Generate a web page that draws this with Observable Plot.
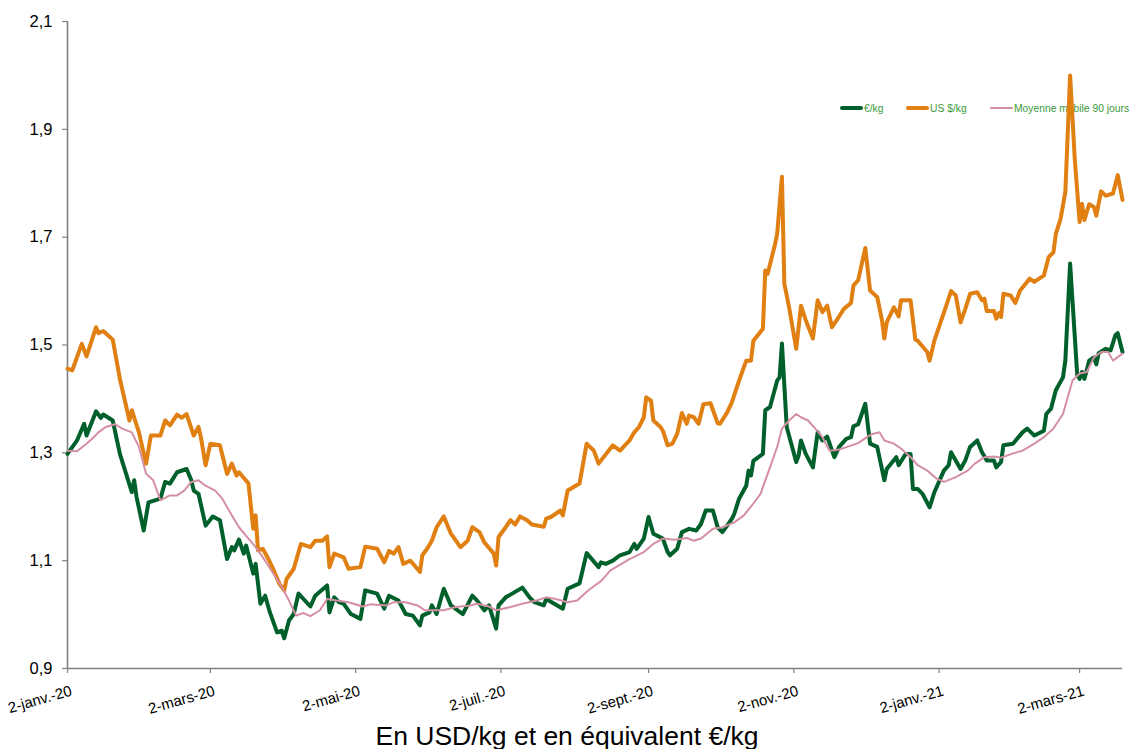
<!DOCTYPE html>
<html><head><meta charset="utf-8">
<script src="https://cdn.jsdelivr.net/npm/d3@7"></script>
<script src="https://cdn.jsdelivr.net/npm/@observablehq/plot@0.6"></script>
<style>
html,body{margin:0;padding:0;background:#fff;overflow:hidden;}
#wrap{position:relative;width:1130px;height:749px;font-family:"Liberation Sans",Arial,sans-serif;}
#legend{position:absolute;left:0;top:0;width:1130px;height:0;font-size:10.3px;color:#3a9a3a;}
.item{position:absolute;display:flex;align-items:center;white-space:nowrap;height:14px;}
.sw{display:inline-block;width:23px;margin-right:1px;border-radius:2px;}
#chart{position:relative;}
#chart svg{display:block;}
#caption{text-align:center;font-size:26.5px;color:#000;padding-top:9px;line-height:30px;padding-left:4px;}
</style>
</head><body>
<div id="wrap">
  <div id="legend"></div>
  <div id="chart"></div>
  <div id="caption"></div>
</div>
<script>
// ---- Data ----
const seriesNames = ["€/kg", "US $/kg", "Moyenne mobile 90 jours"];
const captionText = "En USD/kg et en équivalent €/kg";

const eurDates = ["2020-01-02","2020-01-06","2020-01-09","2020-01-10","2020-01-14","2020-01-16","2020-01-17","2020-01-21","2020-01-24","2020-01-29","2020-01-30","2020-01-31","2020-02-03","2020-02-05","2020-02-10","2020-02-12","2020-02-14","2020-02-17","2020-02-21","2020-02-23","2020-02-24","2020-02-26","2020-02-29","2020-03-03","2020-03-06","2020-03-09","2020-03-11","2020-03-12","2020-03-14","2020-03-16","2020-03-17","2020-03-20","2020-03-21","2020-03-23","2020-03-25","2020-03-27","2020-03-30","2020-04-01","2020-04-02","2020-04-04","2020-04-06","2020-04-08","2020-04-13","2020-04-15","2020-04-20","2020-04-21","2020-04-23","2020-04-25","2020-04-27","2020-04-30","2020-05-04","2020-05-06","2020-05-11","2020-05-14","2020-05-16","2020-05-20","2020-05-23","2020-05-26","2020-05-29","2020-05-30","2020-06-02","2020-06-03","2020-06-05","2020-06-08","2020-06-11","2020-06-16","2020-06-20","2020-06-22","2020-06-25","2020-06-27","2020-06-30","2020-07-01","2020-07-04","2020-07-06","2020-07-11","2020-07-14","2020-07-16","2020-07-20","2020-07-21","2020-07-28","2020-07-30","2020-08-04","2020-08-07","2020-08-12","2020-08-13","2020-08-15","2020-08-18","2020-08-21","2020-08-25","2020-08-27","2020-08-28","2020-08-31","2020-09-02","2020-09-04","2020-09-08","2020-09-10","2020-09-11","2020-09-14","2020-09-16","2020-09-19","2020-09-22","2020-09-24","2020-09-26","2020-09-29","2020-10-01","2020-10-03","2020-10-05","2020-10-07","2020-10-08","2020-10-10","2020-10-13","2020-10-14","2020-10-15","2020-10-16","2020-10-20","2020-10-21","2020-10-23","2020-10-26","2020-10-27","2020-10-28","2020-10-30","2020-11-03","2020-11-04","2020-11-05","2020-11-07","2020-11-10","2020-11-12","2020-11-14","2020-11-16","2020-11-19","2020-11-21","2020-11-24","2020-11-26","2020-11-27","2020-11-29","2020-12-02","2020-12-04","2020-12-07","2020-12-10","2020-12-11","2020-12-15","2020-12-16","2020-12-19","2020-12-21","2020-12-22","2020-12-24","2020-12-26","2020-12-29","2020-12-31","2021-01-04","2021-01-06","2021-01-07","2021-01-11","2021-01-13","2021-01-15","2021-01-18","2021-01-20","2021-01-22","2021-01-25","2021-01-26","2021-01-28","2021-01-29","2021-02-02","2021-02-06","2021-02-08","2021-02-11","2021-02-15","2021-02-16","2021-02-18","2021-02-20","2021-02-23","2021-02-24","2021-02-26","2021-03-01","2021-03-02","2021-03-03","2021-03-04","2021-03-06","2021-03-08","2021-03-09","2021-03-10","2021-03-13","2021-03-15","2021-03-17","2021-03-18","2021-03-20"];
const eurValues = [1.298,1.323,1.354,1.332,1.377,1.365,1.371,1.360,1.298,1.227,1.249,1.218,1.156,1.208,1.215,1.246,1.243,1.264,1.270,1.249,1.230,1.224,1.165,1.182,1.175,1.103,1.125,1.119,1.139,1.113,1.128,1.076,1.094,1.020,1.035,1.004,0.967,0.970,0.956,0.989,1.001,1.039,1.015,1.035,1.054,1.004,1.032,1.023,1.020,1.001,0.992,1.045,1.039,1.011,1.035,1.026,1.001,0.998,0.980,0.998,1.004,1.017,1.001,1.048,1.017,1.001,1.035,1.026,1.008,1.017,0.974,1.017,1.032,1.037,1.050,1.032,1.023,1.017,1.029,1.011,1.048,1.058,1.114,1.088,1.097,1.094,1.100,1.110,1.116,1.131,1.122,1.141,1.181,1.150,1.141,1.116,1.110,1.122,1.153,1.159,1.156,1.168,1.193,1.193,1.162,1.153,1.165,1.178,1.187,1.215,1.239,1.267,1.258,1.285,1.298,1.379,1.385,1.434,1.440,1.503,1.348,1.283,1.295,1.323,1.298,1.273,1.338,1.323,1.330,1.292,1.311,1.326,1.329,1.349,1.353,1.391,1.317,1.311,1.249,1.270,1.292,1.277,1.298,1.298,1.233,1.233,1.224,1.199,1.227,1.267,1.277,1.301,1.270,1.286,1.311,1.323,1.301,1.286,1.286,1.273,1.283,1.314,1.317,1.338,1.345,1.332,1.341,1.372,1.382,1.416,1.440,1.471,1.651,1.444,1.437,1.450,1.437,1.471,1.477,1.464,1.485,1.493,1.490,1.518,1.522,1.487];

const usdDates = ["2020-01-02","2020-01-04","2020-01-08","2020-01-10","2020-01-14","2020-01-15","2020-01-17","2020-01-21","2020-01-24","2020-01-28","2020-01-29","2020-02-01","2020-02-04","2020-02-06","2020-02-10","2020-02-12","2020-02-14","2020-02-17","2020-02-19","2020-02-21","2020-02-24","2020-02-26","2020-02-27","2020-02-29","2020-03-02","2020-03-06","2020-03-09","2020-03-11","2020-03-13","2020-03-14","2020-03-18","2020-03-20","2020-03-21","2020-03-22","2020-03-24","2020-03-26","2020-03-28","2020-03-31","2020-04-02","2020-04-03","2020-04-06","2020-04-09","2020-04-13","2020-04-15","2020-04-18","2020-04-20","2020-04-21","2020-04-23","2020-04-27","2020-04-29","2020-05-04","2020-05-06","2020-05-11","2020-05-14","2020-05-16","2020-05-18","2020-05-20","2020-05-22","2020-05-25","2020-05-29","2020-05-30","2020-06-01","2020-06-03","2020-06-05","2020-06-08","2020-06-11","2020-06-15","2020-06-18","2020-06-20","2020-06-23","2020-06-25","2020-06-29","2020-06-30","2020-07-01","2020-07-04","2020-07-06","2020-07-08","2020-07-10","2020-07-13","2020-07-15","2020-07-20","2020-07-21","2020-07-23","2020-07-25","2020-07-27","2020-07-28","2020-07-30","2020-08-04","2020-08-07","2020-08-10","2020-08-12","2020-08-18","2020-08-21","2020-08-25","2020-08-27","2020-08-29","2020-08-31","2020-09-01","2020-09-03","2020-09-04","2020-09-07","2020-09-08","2020-09-10","2020-09-12","2020-09-14","2020-09-16","2020-09-18","2020-09-19","2020-09-21","2020-09-23","2020-09-25","2020-09-28","2020-10-01","2020-10-02","2020-10-05","2020-10-07","2020-10-10","2020-10-13","2020-10-15","2020-10-16","2020-10-20","2020-10-21","2020-10-22","2020-10-25","2020-10-26","2020-10-28","2020-10-29","2020-10-31","2020-11-03","2020-11-05","2020-11-07","2020-11-10","2020-11-12","2020-11-14","2020-11-16","2020-11-18","2020-11-20","2020-11-23","2020-11-26","2020-11-27","2020-11-29","2020-12-02","2020-12-04","2020-12-07","2020-12-09","2020-12-10","2020-12-11","2020-12-14","2020-12-16","2020-12-17","2020-12-21","2020-12-23","2020-12-24","2020-12-28","2020-12-29","2020-12-31","2021-01-05","2021-01-07","2021-01-09","2021-01-11","2021-01-13","2021-01-15","2021-01-18","2021-01-20","2021-01-21","2021-01-22","2021-01-25","2021-01-26","2021-01-27","2021-01-28","2021-01-29","2021-02-01","2021-02-03","2021-02-05","2021-02-09","2021-02-11","2021-02-15","2021-02-17","2021-02-19","2021-02-20","2021-02-22","2021-02-24","2021-02-26","2021-02-28","2021-03-02","2021-03-03","2021-03-04","2021-03-06","2021-03-08","2021-03-09","2021-03-11","2021-03-13","2021-03-16","2021-03-18","2021-03-20"];
const usdValues = [1.456,1.453,1.502,1.479,1.533,1.522,1.526,1.510,1.437,1.360,1.379,1.338,1.280,1.332,1.332,1.360,1.351,1.371,1.365,1.372,1.332,1.348,1.329,1.277,1.317,1.314,1.261,1.280,1.258,1.264,1.243,1.159,1.184,1.119,1.122,1.106,1.088,1.057,1.045,1.066,1.085,1.131,1.125,1.137,1.137,1.145,1.088,1.113,1.106,1.085,1.088,1.126,1.122,1.097,1.118,1.113,1.125,1.094,1.100,1.079,1.110,1.122,1.137,1.162,1.182,1.150,1.125,1.137,1.162,1.153,1.134,1.113,1.091,1.144,1.162,1.175,1.167,1.182,1.175,1.167,1.163,1.178,1.181,1.187,1.193,1.184,1.230,1.243,1.317,1.304,1.280,1.314,1.304,1.323,1.338,1.348,1.366,1.403,1.397,1.360,1.348,1.341,1.314,1.317,1.335,1.374,1.354,1.369,1.366,1.354,1.390,1.392,1.355,1.354,1.375,1.394,1.434,1.471,1.471,1.508,1.530,1.638,1.632,1.685,1.706,1.812,1.614,1.570,1.493,1.573,1.546,1.512,1.583,1.561,1.573,1.533,1.546,1.567,1.578,1.610,1.620,1.680,1.601,1.589,1.546,1.512,1.542,1.570,1.553,1.583,1.583,1.510,1.508,1.487,1.471,1.508,1.573,1.600,1.592,1.542,1.567,1.595,1.598,1.583,1.586,1.563,1.563,1.549,1.559,1.552,1.595,1.592,1.578,1.601,1.623,1.617,1.629,1.663,1.672,1.706,1.734,1.784,2.000,1.842,1.728,1.762,1.732,1.761,1.756,1.740,1.785,1.777,1.781,1.815,1.769];

const maDates = ["2020-01-02","2020-01-06","2020-01-10","2020-01-13","2020-01-15","2020-01-18","2020-01-22","2020-01-25","2020-01-29","2020-02-01","2020-02-04","2020-02-07","2020-02-10","2020-02-14","2020-02-17","2020-02-20","2020-02-23","2020-02-26","2020-02-29","2020-03-04","2020-03-07","2020-03-11","2020-03-14","2020-03-18","2020-03-21","2020-03-25","2020-03-28","2020-04-01","2020-04-04","2020-04-07","2020-04-10","2020-04-13","2020-04-17","2020-04-20","2020-04-24","2020-04-29","2020-05-05","2020-05-08","2020-05-15","2020-05-18","2020-05-23","2020-05-28","2020-05-31","2020-06-08","2020-06-13","2020-06-19","2020-06-22","2020-06-27","2020-06-30","2020-07-06","2020-07-11","2020-07-17","2020-07-21","2020-07-25","2020-07-30","2020-08-03","2020-08-08","2020-08-13","2020-08-17","2020-08-25","2020-08-31","2020-09-04","2020-09-08","2020-09-13","2020-09-18","2020-09-21","2020-09-24","2020-09-29","2020-10-03","2020-10-08","2020-10-12","2020-10-16","2020-10-19","2020-10-22","2020-10-26","2020-10-28","2020-10-31","2020-11-03","2020-11-05","2020-11-08","2020-11-11","2020-11-14","2020-11-17","2020-11-21","2020-11-25","2020-11-29","2020-12-03","2020-12-05","2020-12-08","2020-12-10","2020-12-14","2020-12-17","2020-12-21","2020-12-24","2020-12-28","2021-01-01","2021-01-04","2021-01-09","2021-01-14","2021-01-17","2021-01-21","2021-01-25","2021-01-28","2021-02-02","2021-02-06","2021-02-11","2021-02-15","2021-02-19","2021-02-23","2021-02-25","2021-02-27","2021-03-02","2021-03-05","2021-03-08","2021-03-11","2021-03-14","2021-03-16","2021-03-20"];
const maValues = [1.304,1.303,1.317,1.329,1.338,1.348,1.353,1.345,1.338,1.311,1.261,1.249,1.212,1.221,1.221,1.230,1.246,1.249,1.239,1.230,1.215,1.184,1.162,1.141,1.125,1.100,1.079,1.051,1.026,0.998,1.003,0.997,1.008,1.029,1.026,1.023,1.015,1.019,1.017,1.023,1.023,1.017,1.008,1.008,1.014,1.017,1.020,1.015,1.008,1.014,1.020,1.026,1.032,1.029,1.023,1.026,1.046,1.062,1.082,1.103,1.116,1.131,1.141,1.139,1.142,1.137,1.141,1.159,1.162,1.171,1.184,1.206,1.224,1.261,1.311,1.345,1.360,1.372,1.366,1.360,1.345,1.329,1.304,1.306,1.312,1.318,1.330,1.335,1.338,1.323,1.317,1.308,1.292,1.277,1.267,1.252,1.246,1.255,1.267,1.280,1.292,1.293,1.291,1.299,1.304,1.317,1.329,1.345,1.372,1.403,1.434,1.447,1.450,1.477,1.487,1.487,1.471,1.484];

const yTicks = [0.9, 1.1, 1.3, 1.5, 1.7, 1.9, 2.1];
const xTickDates = ["2020-01-02","2020-03-02","2020-05-02","2020-07-02","2020-09-02","2020-11-02","2021-01-02","2021-03-02"];
const xTickLabels = ["2-janv.-20","2-mars-20","2-mai-20","2-juil.-20","2-sept.-20","2-nov.-20","2-janv.-21","2-mars-21"];
const xDomain = ["2020-01-02","2021-03-20"];
const yDomain = [0.9, 2.1];

// ---- Styles ----
const colors = ["#00602b", "#e07f12", "#d48fa5"];
const widths = [4, 4, 2];
const FONT = '"Liberation Sans", Arial, sans-serif';

const parse = d3.utcParse("%Y-%m-%d");
const toRows = (dates, values, s) => dates.map((d, i) => ({date: parse(d), value: values[i], series: s}));
const eur = toRows(eurDates, eurValues, seriesNames[0]);
const usd = toRows(usdDates, usdValues, seriesNames[1]);
const ma = toRows(maDates, maValues, seriesNames[2]);
const tickMap = new Map(xTickDates.map((d, i) => [+parse(d), xTickLabels[i]]));
const xTicks = xTickDates.map(parse);

const chart = Plot.plot({
  width: 1130,
  height: 712,
  marginLeft: 67,
  marginRight: 8,
  marginTop: 21,
  marginBottom: 44,
  style: {fontFamily: FONT, fontSize: "16px", color: "#000", background: "transparent", overflow: "visible"},
  x: {type: "utc", domain: xDomain.map(parse)},
  y: {domain: yDomain},
  marks: [
    Plot.axisY({ticks: yTicks, tickFormat: d => String(d).replace(".", ","), tickSize: 5, tickPadding: 10,
      stroke: "#808080", strokeWidth: 1.2, fill: "#000", fontSize: 16.5, label: null}),
    // tick marks only
    Plot.axisX({ticks: xTicks, tickFormat: () => "", tickSize: 5, stroke: "#808080", strokeWidth: 1.2, label: null}),
    // rotated labels only
    Plot.axisX({ticks: xTicks, tickFormat: d => tickMap.get(+d), tickSize: 0, tickPadding: 22,
      tickRotate: -16, dx: 4, fill: "#000", fontSize: 15, label: null}),
    Plot.ruleX([parse(xDomain[0])], {stroke: "#808080", strokeWidth: 1.6}),
    Plot.ruleY([yDomain[0]], {stroke: "#808080", strokeWidth: 1.6}),
    Plot.line(eur, {x: "date", y: "value", stroke: colors[0], strokeWidth: widths[0], strokeLinejoin: "round"}),
    Plot.line(usd, {x: "date", y: "value", stroke: colors[1], strokeWidth: widths[1], strokeLinejoin: "round"}),
    Plot.line(ma, {x: "date", y: "value", stroke: colors[2], strokeWidth: widths[2], strokeLinejoin: "round"})
  ]
});
document.getElementById("chart").appendChild(chart);

// Legend (drawn behind the chart so lines pass over it)
const legendLeft = [840, 906, 990];
const legend = document.getElementById("legend");
seriesNames.forEach((name, i) => {
  const it = document.createElement("div");
  it.className = "item";
  it.style.left = legendLeft[i] + "px";
  it.style.top = "101px";
  const sw = document.createElement("span");
  sw.className = "sw";
  sw.style.background = colors[i];
  sw.style.height = widths[i] + "px";
  it.appendChild(sw);
  const t = document.createElement("span");
  t.textContent = name;
  it.appendChild(t);
  legend.appendChild(it);
});
document.getElementById("caption").textContent = captionText;
</script>
</body></html>
